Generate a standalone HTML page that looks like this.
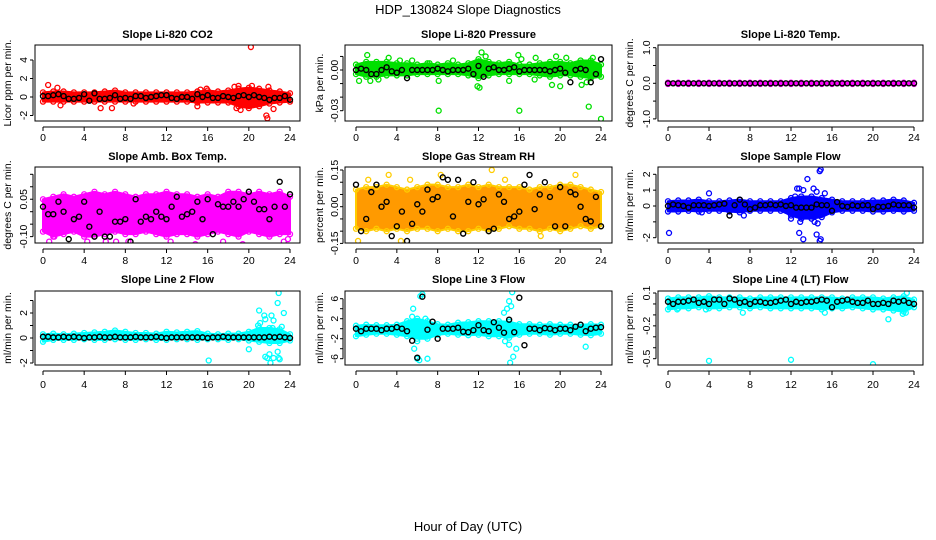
<!DOCTYPE html>
<html><head><meta charset="utf-8"><style>
html,body{margin:0;padding:0;background:#fff;}
svg{display:block;font-family:"Liberation Sans",Arial,sans-serif;}
</style></head><body>
<svg id="chart" width="936" height="540" viewBox="0 0 936 540">
<text x="468" y="14" text-anchor="middle" font-size="13">HDP_130824  Slope Diagnostics</text>
<text x="468" y="531" text-anchor="middle" font-size="13">Hour of Day (UTC)</text>
</svg>
<script>
const bandHours=[0,1,2,3,4,5,6,7,8,9,10,11,12,13,14,15,16,17,18,19,20,21,22,23,24];
const meanHours=[0,0.5,1,1.5,2,2.5,3,3.5,4,4.5,5,5.5,6,6.5,7,7.5,8,8.5,9,9.5,10,10.5,11,11.5,12,12.5,13,13.5,14,14.5,15,15.5,16,16.5,17,17.5,18,18.5,19,19.5,20,20.5,21,21.5,22,22.5,23,23.5,24];
const xTicks=[0,4,8,12,16,20,24];

// Panel 1 CO2
const co2Lo=[-0.5,-0.5,-0.5,-0.5,-0.5,-0.5,-0.5,-0.5,-0.5,-0.5,-0.5,-0.5,-0.5,-0.5,-0.5,-0.6,-0.6,-0.6,-0.6,-1.0,-1.2,-1.0,-0.7,-0.6,-0.5];
const co2Hi=[0.5,0.6,0.6,0.5,0.5,0.5,0.6,0.7,0.5,0.5,0.5,0.5,0.5,0.5,0.5,0.6,0.7,0.6,0.7,0.9,1.0,0.9,0.7,0.6,0.4];
const co2OutX=[0.5,1.4,1.7,5.6,6.7,8.8,15,15.3,15.9,18.6,19,19.2,20.2,20.3,21.7,21.8,22.4,21.9,18.8];
const co2OutY=[1.3,1.0,-0.9,-1.2,-1.2,-0.7,-1,0.8,0.9,1.1,1.2,-1.4,5.4,1.2,-2,-2.3,-1.3,1.1,-1.2];
const co2Mean=[0.1,0.1,0.2,0.3,0.1,-0.2,-0.2,-0.1,0.3,-0.4,0.4,-0.2,-0.2,-0.1,0.2,-0.2,-0.1,-0.2,0.1,0.1,-0.1,0,0.1,0.2,0.2,-0.1,-0.2,0,0,-0.2,0.3,0,0.2,-0.1,-0.1,0.1,0,-0.1,0.1,0.2,0,0.2,0,-0.1,-0.3,-0.1,-0.1,0.1,-0.3];
const co2YTicks=[-2,0,2,4];
const co2YLabels=["-2","0","2","4"];

// Panel 2 Pressure
const presLo=[-0.003,-0.005,-0.005,-0.004,-0.004,-0.004,-0.003,-0.003,-0.003,-0.003,-0.003,-0.004,-0.006,-0.004,-0.003,-0.003,-0.003,-0.003,-0.004,-0.005,-0.004,-0.004,-0.005,-0.006,-0.005];
const presHi=[0.004,0.006,0.006,0.006,0.005,0.005,0.004,0.005,0.004,0.005,0.004,0.005,0.008,0.006,0.005,0.006,0.004,0.004,0.005,0.006,0.006,0.005,0.007,0.007,0.004];
const presOutX=[0.3,1.1,1.4,2.2,3.2,4.3,5.5,7.2,8.1,8.1,9.5,11.9,12.1,12.3,12.7,15,15.9,16,16.2,17.6,17.5,19.2,20,19.6,20.6,22.8,22.1,23.2,24,22.6];
const presOutY=[-0.008,0.011,-0.008,-0.007,0.009,0.007,0.007,0.005,-0.03,-0.008,0.007,-0.012,-0.013,0.013,0.01,-0.008,0.011,-0.03,0.008,0.009,-0.007,-0.011,-0.012,0.01,0.009,-0.027,-0.011,0.009,-0.036,-0.009];
const presMean=[0,0.001,0,-0.003,-0.003,0,0.002,-0.001,-0.002,0,-0.006,0,0,0,0,0,0.001,0,-0.001,0,0,0,0.001,-0.003,0.003,-0.005,0.001,0.002,0,0,0.001,0.002,-0.001,0,0,0,0,0,-0.001,0,0.001,-0.002,-0.009,0,0.001,0,-0.009,-0.003,0.008];
const presYTicks=[0.01,0,-0.01,-0.02,-0.03];
const presYLabels=["","0.00","","","-0.03"];

// Panel 3 Li-820 Temp
const tempLo=[-0.02,-0.02,-0.02,-0.02,-0.02,-0.02,-0.02,-0.02,-0.02,-0.02,-0.02,-0.02,-0.02,-0.02,-0.02,-0.02,-0.02,-0.02,-0.02,-0.02,-0.02,-0.02,-0.02,-0.02,-0.02];
const tempHi=[0.02,0.02,0.02,0.02,0.02,0.02,0.02,0.02,0.02,0.02,0.02,0.02,0.02,0.02,0.02,0.02,0.02,0.02,0.02,0.02,0.02,0.02,0.02,0.02,0.02];
const tempOutX=[];
const tempOutY=[];
const tempMean=[0,0,0,0,0,0,0,0,0,0,0,0,0,0,0,0,0,0,0,0,0,0,0,0,0,0,0,0,0,0,0,0,0,0,0,0,0,0,0,0,0,0,0,0,0,0,0,0,0];
const tempYTicks=[1,0.5,0,-0.5,-1];
const tempYLabels=["1.0","","0.0","","-1.0"];

// Panel 4 Amb Box Temp
const ambLo=[-0.08,-0.1,-0.09,-0.08,-0.1,-0.1,-0.09,-0.08,-0.09,-0.09,-0.08,-0.09,-0.1,-0.09,-0.09,-0.1,-0.09,-0.08,-0.09,-0.1,-0.08,-0.09,-0.1,-0.09,-0.09];
const ambHi=[0.05,0.06,0.07,0.06,0.07,0.08,0.07,0.08,0.07,0.06,0.07,0.07,0.08,0.07,0.07,0.06,0.07,0.06,0.08,0.08,0.07,0.08,0.07,0.08,0.06];
const ambOutX=[0.6,1.1,4.3,5,6.1,7.1,8.3,12.4,14.8,17.5,19.4,23.4,23.8];
const ambOutY=[-0.12,-0.1,-0.12,-0.14,-0.12,-0.12,-0.12,-0.12,-0.13,-0.12,-0.13,-0.12,-0.11];
const ambMean=[0.02,-0.01,-0.01,0.04,0,-0.11,-0.03,-0.02,0.04,-0.06,-0.1,0,-0.1,-0.1,-0.04,-0.04,-0.03,-0.12,0.05,-0.04,-0.02,-0.03,0,-0.02,-0.03,0.02,0.06,-0.02,-0.01,0,0.04,-0.03,0.05,-0.09,0.03,0.02,0.02,0.04,0.02,0.05,0.08,0.04,0.01,0.01,-0.03,0.02,0.12,0.02,0.07];
const ambYTicks=[0.15,0.1,0.05,0,-0.05,-0.1];
const ambYLabels=["","","0.05","","","-0.10"];

// Panel 5 Gas Stream RH
const rhLo=[-0.09,-0.1,-0.09,-0.1,-0.09,-0.1,-0.09,-0.09,-0.1,-0.09,-0.1,-0.1,-0.09,-0.1,-0.09,-0.08,-0.09,-0.09,-0.1,-0.09,-0.1,-0.09,-0.08,-0.09,-0.08];
const rhHi=[0.07,0.08,0.08,0.09,0.08,0.07,0.08,0.09,0.09,0.08,0.08,0.09,0.08,0.09,0.08,0.08,0.08,0.07,0.08,0.08,0.09,0.09,0.08,0.07,0.06];
const rhOutX=[0.2,1.2,3.2,4.4,5.3,8.3,12.1,13.3,14.6,18.1,21.5,22.8];
const rhOutY=[-0.14,0.11,0.13,-0.14,0.11,0.13,-0.17,0.15,0.11,-0.12,0.13,-0.16];
const rhMean=[0.09,-0.1,-0.05,0.06,0.09,0,0.02,-0.12,-0.08,-0.02,-0.14,-0.07,0.01,-0.02,0.07,0.03,0.04,0.12,0.11,-0.04,0.11,-0.11,0.02,0.1,0.01,0.03,-0.1,-0.09,0.05,0.02,-0.05,-0.04,-0.02,0.09,0.13,-0.01,0.05,0.1,0.04,-0.08,0.08,-0.08,0.06,0.05,0,-0.05,-0.06,0.04,-0.08];
const rhYTicks=[0.15,0.1,0.05,0,-0.05,-0.1,-0.15];
const rhYLabels=["0.15","","","0.00","","","-0.15"];

// Panel 6 Sample Flow
const sfLo=[-0.35,-0.35,-0.3,-0.35,-0.3,-0.3,-0.35,-0.4,-0.3,-0.3,-0.3,-0.3,-0.6,-0.8,-0.8,-0.7,-0.4,-0.3,-0.3,-0.3,-0.35,-0.35,-0.3,-0.35,-0.3];
const sfHi=[0.3,0.35,0.35,0.4,0.3,0.3,0.35,0.4,0.3,0.3,0.3,0.3,0.5,0.6,0.6,0.5,0.4,0.3,0.3,0.3,0.35,0.35,0.4,0.35,0.2];
const sfOutX=[0.1,4,12.4,12.6,12.8,13.2,13.6,14.2,14.8,14.9,14.5,15.3,12.8,13.2,14.5,14.8,14.9,12,12.9,14.3,14.6,13.8,15.1,7.4,3.3];
const sfOutY=[-1.7,0.8,0.6,1.1,1.1,1,1.7,1.1,2.2,2.3,0.9,0.8,-1.7,-2.1,-1.8,-2.2,-2.1,-0.8,-1,-1,-1.1,-0.6,-0.5,-0.6,-0.4];
const sfMean=[0,0.1,0.05,0,-0.1,0.05,0.05,0.05,0,0.05,0.1,0.15,-0.6,0.05,0.4,0.1,-0.2,-0.1,0.05,0.05,0.1,0.05,0.1,0,0.05,-0.1,-0.1,-0.1,-0.1,0.1,0.05,0.05,-0.3,0.25,0,-0.05,0.05,0,0.05,0.05,-0.2,-0.05,-0.05,0,0.1,0.05,0.05,0.05,-0.1];
const sfYTicks=[2,1,0,-1,-2];
const sfYLabels=["2","1","0","","-2"];

// Panel 7 Line 2 Flow
const l2Lo=[-0.3,-0.15,-0.15,-0.15,-0.1,-0.15,-0.15,-0.1,-0.15,-0.15,-0.1,-0.15,-0.15,-0.1,-0.1,-0.15,-0.1,-0.1,-0.15,-0.1,-0.2,-0.3,-0.4,-0.4,-0.2];
const l2Hi=[0.3,0.35,0.3,0.35,0.4,0.45,0.5,0.6,0.5,0.4,0.4,0.35,0.5,0.45,0.5,0.55,0.35,0.3,0.35,0.35,0.5,0.8,0.8,0.7,0.3];
const l2OutX=[16.1,20,21,21.1,21.5,20.9,21.6,22.2,22.4,22.3,22.9,22.8,23.4,23.2,21.8,22,22.1,22.4,22.8,22.9,23,21.6];
const l2OutY=[-1.8,-0.9,2.2,1.2,1.8,1,1.5,1.8,1.4,0.8,3.6,2.8,2,0.9,-1.6,-1.3,-2.0,-1.6,-1.1,-1.6,-1.7,-1.5];
const l2Mean=[0.1,0.1,0.05,0.05,0.1,0.05,0.1,0.05,0,0.05,0.05,0.1,0.05,0.05,0.1,0.05,0.05,0.05,0.1,0.05,0.05,0.05,0.1,0.05,0,0.05,0.05,0.05,0.05,0.05,0.05,0.05,0,0.05,0.05,0.1,0.05,0.05,0.05,0.05,0.05,0.05,0.05,0.05,0.1,0.05,0.1,0.05,0];
const l2YTicks=[3,2,1,0,-1,-2];
const l2YLabels=["","2","","0","","-2"];

// Panel 8 Line 3 Flow
const l3Lo=[-1.5,-1.2,-1.0,-1.0,-1.2,-1.5,-2.0,-2.0,-1.2,-1.0,-1.2,-1.3,-1.2,-1.5,-1.5,-1.8,-1.2,-1.0,-1.0,-1.2,-1.0,-1.0,-1.2,-1.3,-1.0];
const l3Hi=[0.6,0.8,0.7,0.7,0.8,1.5,2.0,1.5,0.9,0.8,1.2,1.3,1.5,1.5,1.5,1.4,0.9,0.9,0.8,0.9,0.8,0.8,0.8,0.9,0.8];
const l3OutX=[5.6,6.3,6.5,5.7,6,6.2,7,6,5.5,6.8,14.8,15,15.2,14.5,15.3,15.1,15.4,15,15.7,22.5,14.6];
const l3OutY=[4,6.5,6.9,-4,-6,-6.3,-6,-2.5,2.4,2,4,5.5,4.5,3.2,7.3,-6.8,-5.6,-3.2,-4,-3.6,-2.5];
const l3Mean=[0,-0.5,0,0,0,-0.3,0,0,0.3,0,-0.5,-2.4,-5.8,6.4,-0.2,1.4,-2,0,0,0,0.2,-0.6,-0.7,-0.3,0.7,-0.3,-0.5,1.3,0.2,-0.8,1.8,-0.7,6.2,-3.3,0,0,-0.3,0.1,0,-0.3,0,0,-0.3,0.4,0.8,-0.5,0,0.2,0.3];
const l3YTicks=[6,4,2,0,-2,-4,-6];
const l3YLabels=["6","","2","","-2","","-6"];

// Panel 9 Line 4 (LT) Flow
const l4Lo=[-0.05,-0.04,-0.04,-0.03,-0.04,-0.04,-0.03,-0.03,-0.04,-0.03,-0.04,-0.04,-0.04,-0.04,-0.04,-0.05,-0.04,-0.04,-0.03,-0.04,-0.05,-0.05,-0.06,-0.07,-0.03];
const l4Hi=[0.05,0.06,0.06,0.06,0.07,0.06,0.06,0.06,0.05,0.06,0.06,0.06,0.06,0.06,0.06,0.06,0.06,0.05,0.06,0.06,0.06,0.05,0.06,0.07,0.04];
const l4OutX=[4,12,20,15.3,7.3,21.5,22.9,23.3,23.2,0.9,3.7];
const l4OutY=[-0.52,-0.51,-0.55,-0.08,-0.08,-0.14,-0.09,0.1,-0.08,-0.05,-0.05];
const l4Mean=[0.02,0.0,0.02,0.02,0.03,0.04,0.01,0.02,0.0,0.04,0.04,0.0,0.05,0.04,0.01,0.02,0.0,0.02,0.02,0.01,0.01,0.02,0.03,0.04,0.0,0.02,0.01,0.02,0.02,0.03,0.04,0.03,-0.03,0.02,0.03,0.04,0.02,0.01,0.01,0.03,0.0,0.0,0.01,0.0,0.03,0.02,0.03,0.01,0.0];
const l4YTicks=[0.1,0,-0.1,-0.2,-0.3,-0.4,-0.5];
const l4YLabels=["0.1","","","-0.2","","","-0.5"];

const svg=document.getElementById('chart');
const NS='http://www.w3.org/2000/svg';
function mk(tag,attrs,parent){const e=document.createElementNS(NS,tag);for(const k in attrs)e.setAttribute(k,attrs[k]);(parent||svg).appendChild(e);return e;}

const colX=[{bl:35,br:300,x0:43,x24:290,tl:24,yl:8},{bl:345,br:612,x0:356,x24:601,tl:335,yl:320},{bl:658,br:923,x0:668,x24:914,tl:647,yl:630}];
const rowY=[{bt:45,bb:121,title:38,lab:141},{bt:167,bb:243,title:160,lab:264},{bt:291,bb:365,title:283,lab:388}];

function drawPanel(c,r,name,title,ylab,v0,p0,v1,p1,color,lo,hi,ox,oy,mean,yt,yl,inner){
  const C=colX[c],R=rowY[r];
  const g=mk('g',{});
  
  
  const sx=h=>C.x0+(C.x24-C.x0)*h/24;
  const sy=v=>p0+(v-v0)*(p1-p0)/(v1-v0);
  const clipId='clip-'+name;
  const cp=mk('clipPath',{id:clipId},g);
  mk('rect',{x:C.bl,y:R.bt,width:C.br-C.bl,height:R.bb-R.bt},cp);
  const t=mk('text',{x:(C.bl+C.br)/2,y:R.title,'text-anchor':'middle','font-size':'11','font-weight':'bold'},g);
  t.textContent=title;
  
  
  const yc=(R.bt+R.bb)/2;
  const ya=mk('text',{x:C.yl,y:yc,'text-anchor':'middle','font-size':'10.5',transform:`rotate(-90 ${C.yl} ${yc})`,'dominant-baseline':'central'},g);
  ya.textContent=ylab;
  
  
  const pts=mk('g',{'clip-path':`url(#${clipId})`},g);
  let poly=[];
  for(let i=0;i<bandHours.length;i++)poly.push(sx(bandHours[i])+','+sy(hi[i]));
  for(let i=bandHours.length-1;i>=0;i--)poly.push(sx(bandHours[i])+','+sy(lo[i]));
  const band=mk('polygon',{points:poly.join(' '),fill:inner||color,stroke:color,'stroke-width':2,'stroke-linejoin':'round'},pts);
  
  
  for(let i=0;i<bandHours.length;i++){
    for(const v of [lo[i],hi[i]]){
      const ci=mk('circle',{cx:sx(bandHours[i]),cy:sy(v),r:2.5,fill:'none',stroke:color,'stroke-width':1.3},pts);
      
      
    }
  }
  for(let i=0;i<ox.length;i++){
    const ci=mk('circle',{cx:sx(ox[i]),cy:sy(oy[i]),r:2.5,fill:'none',stroke:color,'stroke-width':1.3},pts);
    
    
  }
  for(let i=0;i<meanHours.length;i++){
    const ci=mk('circle',{cx:sx(meanHours[i]),cy:sy(mean[i]),r:2.5,fill:'none',stroke:'#000','stroke-width':1.4},pts);
    
    
  }
  const box=mk('rect',{x:C.bl,y:R.bt,width:C.br-C.bl,height:R.bb-R.bt,fill:'none',stroke:'#000','stroke-width':1},g);
  
  
  mk('line',{x1:sx(0),x2:sx(24),y1:R.bb+6,y2:R.bb+6,stroke:'#000'},g);
  for(const h of xTicks){
    mk('line',{x1:sx(h),x2:sx(h),y1:R.bb+6,y2:R.bb+10,stroke:'#000'},g);
    const tl=mk('text',{x:sx(h),y:R.lab,'text-anchor':'middle','font-size':'10.5'},g);
    tl.textContent=h;
    
    
  }
  const ax=C.bl-2;
  mk('line',{x1:ax,x2:ax,y1:sy(yt[0]),y2:sy(yt[yt.length-1]),stroke:'#000'},g);
  for(let i=0;i<yt.length;i++){
    const y=sy(yt[i]);
    mk('line',{x1:ax-3,x2:ax,y1:y,y2:y,stroke:'#000'},g);
    if(yl[i]){
      const tl=mk('text',{x:C.tl,y:y,'text-anchor':'middle','font-size':'10.5',transform:`rotate(-90 ${C.tl} ${y})`,'dominant-baseline':'central'},g);
      tl.textContent=yl[i];
      
      
    }
  }
}
drawPanel(0,0,'co2','Slope Li-820 CO2','Licor ppm per min.',0,97,4,60,'#ff0000',co2Lo,co2Hi,co2OutX,co2OutY,co2Mean,co2YTicks,co2YLabels);
drawPanel(1,0,'pressure','Slope Li-820 Pressure','kPa per min.',0,70,-0.03,110.7,'#00e000',presLo,presHi,presOutX,presOutY,presMean,presYTicks,presYLabels);
drawPanel(2,0,'li820-temp','Slope Li-820 Temp.','degrees C per min.',0,83.3,1,47.7,'#ff00ff',tempLo,tempHi,tempOutX,tempOutY,tempMean,tempYTicks,tempYLabels);
drawPanel(0,1,'amb-temp','Slope Amb. Box Temp.','degrees C per min.',0,211.7,0.15,174.3,'#ff00ff',ambLo,ambHi,ambOutX,ambOutY,ambMean,ambYTicks,ambYLabels);
drawPanel(1,1,'gas-rh','Slope Gas Stream RH','percent per min.',0,206.7,0.15,170,'#ffcc00',rhLo,rhHi,rhOutX,rhOutY,rhMean,rhYTicks,rhYLabels,'#ff9a00');
drawPanel(2,1,'sample-flow','Slope Sample Flow','ml/min per min.',0,206,2,174.3,'#0000ff',sfLo,sfHi,sfOutX,sfOutY,sfMean,sfYTicks,sfYLabels);
drawPanel(0,2,'line2-flow','Slope Line 2 Flow','ml/min per min.',0,338,2,313,'#00ffff',l2Lo,l2Hi,l2OutX,l2OutY,l2Mean,l2YTicks,l2YLabels);
drawPanel(1,2,'line3-flow','Slope Line 3 Flow','ml/min per min.',0,328.7,6,298.7,'#00ffff',l3Lo,l3Hi,l3OutX,l3OutY,l3Mean,l3YTicks,l3YLabels);
drawPanel(2,2,'line4-flow','Slope Line 4 (LT) Flow','ml/min per min.',0.1,293,-0.5,358.7,'#00ffff',l4Lo,l4Hi,l4OutX,l4OutY,l4Mean,l4YTicks,l4YLabels);
</script>
</body></html>
